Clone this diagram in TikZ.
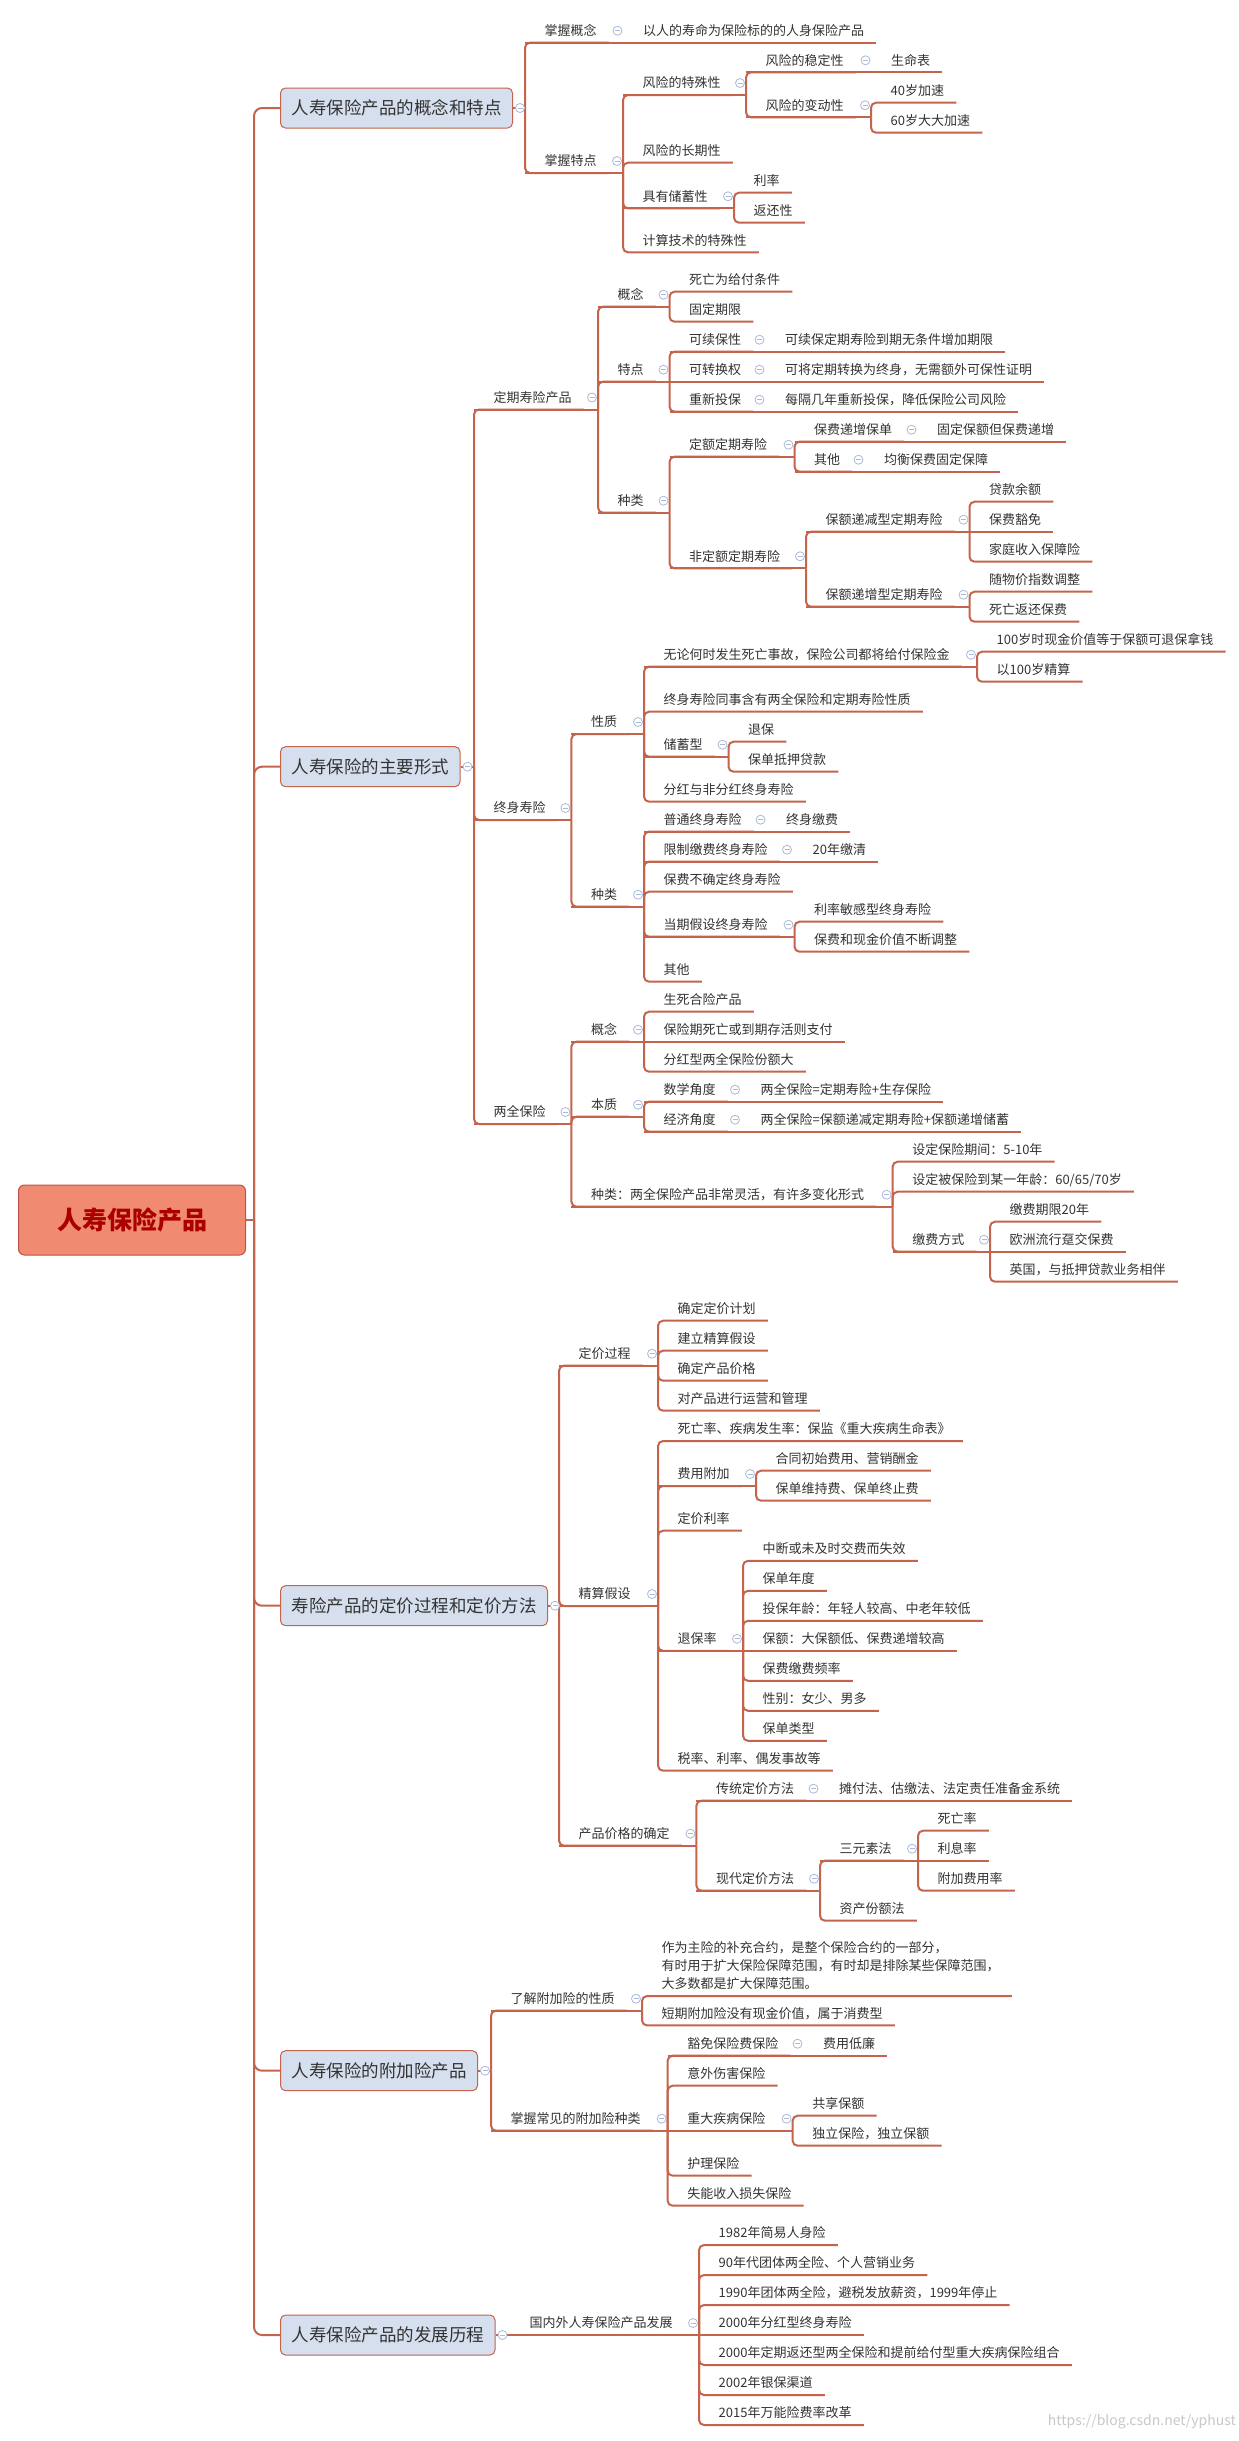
\documentclass[tikz,border=0pt]{standalone}
\usepackage{fontspec}
\newfontfamily\cjk{Noto Sans CJK SC}
\usetikzlibrary{calc}
\definecolor{lc}{RGB}{196,100,76}
\definecolor{bf}{RGB}{214,223,238}
\definecolor{tc}{RGB}{51,51,51}
\definecolor{rf}{RGB}{240,138,112}
\definecolor{rd}{RGB}{192,80,77}
\definecolor{rt}{RGB}{170,0,0}
\definecolor{tgc}{RGB}{170,185,215}
\definecolor{wmc}{RGB}{200,200,200}
\tikzset{
  ln/.style={draw=lc, line width=2pt},
  lf/.style={anchor=south west, inner sep=0pt, text depth=7pt, text height=10pt,
    font=\cjk\fontsize{13}{18}\selectfont, text=tc,
    execute at begin node={\hspace*{19.5pt}}, execute at end node={\hspace*{12pt}}},
  mb/.style={draw=lc, line width=1pt, fill=bf, rounded corners=5pt, anchor=west,
    minimum height=40pt, inner xsep=11pt, inner ysep=0pt,
    font=\cjk\fontsize{17.5}{20}\selectfont, text=tc},
  rootbox/.style={draw=rd, line width=1pt, fill=rf, rounded corners=6pt,
    minimum width=227pt, minimum height=70pt, inner sep=0pt,
    font=\cjk\bfseries\fontsize{25}{28}\selectfont, text=rt},
  tog/.pic={\draw[tgc, line width=0.8pt, fill=white] (0pt,0pt) circle (4.5pt);
            \draw[tgc, line width=0.8pt] (-2.5pt,0pt) -- (2.5pt,0pt);}
}
\newcommand\lnE[2]{\draw[ln] (#1) -- (#1 -| #2.south west);
  \draw[ln,rounded corners=5pt] (#1 -| #2.south west) -- (#2.south west) -- (#2.south east);}
\newcommand\lnS[2]{\draw[ln] (#1) -- (#2.south east);}
\newcommand\tg[2]{\pic at ($(#1 -| #2.south west)+(-6,-12)$) {tog};}
\newcommand\tgm[1]{\pic at ($(#1.east)+(7,0)$) {tog};}
\begin{document}
\begin{tikzpicture}[x=1pt,y=-1pt]
\fill[white] (0,0) rectangle (1239,2441);
\useasboundingbox (0,0) rectangle (1239,2441);

% root and main topics
\node[rootbox] (root) at (132,1220) {人寿保险产品};
\coordinate (rb) at (254,1220);
\node[mb] (m1) at (280,108) {人寿保险产品的概念和特点};
\node[mb] (m2) at (280,766.7) {人寿保险的主要形式};
\node[mb] (m3) at (280,1605.7) {寿险产品的定价过程和定价方法};
\node[mb] (m4) at (280,2070.7) {人寿保险的附加险产品};
\node[mb] (m5) at (280,2335) {人寿保险产品的发展历程};

% ---- main 1
\node[lf] (a1) at (525,42.7) {掌握概念};
\node[lf] (a11) at (623.5,42.7) {以人的寿命为保险标的的人身保险产品};
\node[lf] (a2) at (525,173) {掌握特点};
\node[lf] (a21) at (623,95) {风险的特殊性};
\node[lf] (a211) at (746,72.3) {风险的稳定性};
\node[lf] (a2111) at (871.5,72.3) {生命表};
\node[lf] (a212) at (746,117.3) {风险的变动性};
\node[lf] (a2121) at (871,102.7) {40岁加速};
\node[lf] (a2122) at (871,132.7) {60岁大大加速};
\node[lf] (a22) at (623,162.7) {风险的长期性};
\node[lf] (a23) at (623,208.3) {具有储蓄性};
\node[lf] (a231) at (734,192.7) {利率};
\node[lf] (a232) at (734,222.7) {返还性};
\node[lf] (a24) at (623,252.3) {计算技术的特殊性};

% ---- main 2
\node[lf] (b1) at (474,409.5) {定期寿险产品};
\node[lf] (b11) at (598,306.7) {概念};
\node[lf] (b111) at (669.5,291.7) {死亡为给付条件};
\node[lf] (b112) at (669.5,321.7) {固定期限};
\node[lf] (b12) at (598,381.7) {特点};
\node[lf] (b121) at (669.5,351.7) {可续保性};
\node[lf] (b1211) at (765.5,351.7) {可续保定期寿险到期无条件增加期限};
\node[lf] (b122) at (669.5,381.7) {可转换权};
\node[lf] (b1221) at (765.5,381.7) {可将定期转换为终身，无需额外可保性证明};
\node[lf] (b123) at (669.5,411.7) {重新投保};
\node[lf] (b1231) at (765.5,411.7) {每隔几年重新投保，降低保险公司风险};
\node[lf] (b13) at (598,512.7) {种类};
\node[lf] (b131) at (669.5,456.7) {定额定期寿险};
\node[lf] (b1311) at (794.5,441.7) {保费递增保单};
\node[lf] (b13111) at (917.5,441.7) {固定保额但保费递增};
\node[lf] (b1312) at (794.5,471.7) {其他};
\node[lf] (b13121) at (864.5,471.7) {均衡保费固定保障};
\node[lf] (b132) at (669.5,568.3) {非定额定期寿险};
\node[lf] (b1321) at (806,531.7) {保额递减型定期寿险};
\node[lf] (b13211) at (969.5,501.7) {贷款余额};
\node[lf] (b13212) at (969.5,531.7) {保费豁免};
\node[lf] (b13213) at (969.5,561.7) {家庭收入保障险};
\node[lf] (b1322) at (806,606.7) {保额递增型定期寿险};
\node[lf] (b13221) at (969.5,591.7) {随物价指数调整};
\node[lf] (b13222) at (969.5,621.7) {死亡返还保费};

\node[lf] (b2) at (474,820) {终身寿险};
\node[lf] (b21) at (571.4,734) {性质};
\node[lf] (b211) at (644,666.7) {无论何时发生死亡事故，保险公司都将给付保险金};
\node[lf] (b2111) at (977,651.7) {100岁时现金价值等于保额可退保拿钱};
\node[lf] (b2112) at (977,681.7) {以100岁精算};
\node[lf] (b212) at (644,711.7) {终身寿险同事含有两全保险和定期寿险性质};
\node[lf] (b213) at (644,756.7) {储蓄型};
\node[lf] (b2131) at (728.5,741.7) {退保};
\node[lf] (b2132) at (728.5,771.7) {保单抵押贷款};
\node[lf] (b214) at (644,801.7) {分红与非分红终身寿险};
\node[lf] (b22) at (571.4,906.7) {种类};
\node[lf] (b221) at (644,831.7) {普通终身寿险};
\node[lf] (b2211) at (766.5,831.7) {终身缴费};
\node[lf] (b222) at (644,861.7) {限制缴费终身寿险};
\node[lf] (b2221) at (793,861.7) {20年缴清};
\node[lf] (b223) at (644,891.7) {保费不确定终身寿险};
\node[lf] (b224) at (644,936.7) {当期假设终身寿险};
\node[lf] (b2241) at (794.5,921.7) {利率敏感型终身寿险};
\node[lf] (b2242) at (794.5,951.7) {保费和现金价值不断调整};
\node[lf] (b225) at (644,981.7) {其他};

\node[lf] (b3) at (474,1124) {两全保险};
\node[lf] (b31) at (571.4,1041.7) {概念};
\node[lf] (b311) at (644,1011.7) {生死合险产品};
\node[lf] (b312) at (644,1041.7) {保险期死亡或到期存活则支付};
\node[lf] (b313) at (644,1071.7) {分红型两全保险份额大};
\node[lf] (b32) at (571.4,1116.7) {本质};
\node[lf] (b321) at (644,1101.7) {数学角度};
\node[lf] (b3211) at (741,1101.7) {两全保险=定期寿险+生存保险};
\node[lf] (b322) at (644,1131.7) {经济角度};
\node[lf] (b3221) at (741,1131.7) {两全保险=保额递减定期寿险+保额递增储蓄};
\node[lf] (b33) at (571.4,1206.7) {种类：两全保险产品非常灵活，有许多变化形式};
\node[lf] (b331) at (892.6,1161.7) {设定保险期间：5-10年};
\node[lf] (b332) at (892.6,1191.7) {设定被保险到某一年龄：60/65/70岁};
\node[lf] (b333) at (892.6,1251.7) {缴费方式};
\node[lf] (b3331) at (990,1221.7) {缴费期限20年};
\node[lf] (b3332) at (990,1251.7) {欧洲流行趸交保费};
\node[lf] (b3333) at (990,1281.7) {英国，与抵押贷款业务相伴};

% ---- main 3
\node[lf] (c1) at (559,1365.7) {定价过程};
\node[lf] (c11) at (658,1320.7) {确定定价计划};
\node[lf] (c12) at (658,1350.7) {建立精算假设};
\node[lf] (c13) at (658,1380.7) {确定产品价格};
\node[lf] (c14) at (658,1410.7) {对产品进行运营和管理};
\node[lf] (c2) at (559,1606) {精算假设};
\node[lf] (c21) at (658,1441) {死亡率、疾病发生率：保监《重大疾病生命表》};
\node[lf] (c22) at (658,1486) {费用附加};
\node[lf] (c221) at (756,1470.7) {合同初始费用、营销酬金};
\node[lf] (c222) at (756,1500.7) {保单维持费、保单终止费};
\node[lf] (c23) at (658,1530.7) {定价利率};
\node[lf] (c24) at (658,1650.8) {退保率};
\node[lf] (c241) at (743,1560.8) {中断或未及时交费而失效};
\node[lf] (c242) at (743,1590.8) {保单年度};
\node[lf] (c243) at (743,1620.8) {投保年龄：年轻人较高、中老年较低};
\node[lf] (c244) at (743,1650.8) {保额：大保额低、保费递增较高};
\node[lf] (c245) at (743,1680.8) {保费缴费频率};
\node[lf] (c246) at (743,1710.8) {性别：女少、男多};
\node[lf] (c247) at (743,1740.8) {保单类型};
\node[lf] (c25) at (658,1770.7) {税率、利率、偶发事故等};
\node[lf] (c3) at (559,1845.7) {产品价格的确定};
\node[lf] (c31) at (696.4,1800.7) {传统定价方法};
\node[lf] (c311) at (819.5,1800.7) {摊付法、估缴法、法定责任准备金系统};
\node[lf] (c32) at (696.4,1890.7) {现代定价方法};
\node[lf] (c321) at (820,1860.7) {三元素法};
\node[lf] (c3211) at (918,1830.7) {死亡率};
\node[lf] (c3212) at (918,1860.7) {利息率};
\node[lf] (c3213) at (918,1890.7) {附加费用率};
\node[lf] (c322) at (820,1920.7) {资产份额法};

% ---- main 4
\node[lf] (d1) at (491,2010.7) {了解附加险的性质};
\node[lf] (d11) at (642,1996) {\begin{tabular}[b]{@{}l@{}}作为主险的补充合约，是整个保险合约的一部分，\\有时用于扩大保险保障范围，有时却是排除某些保障范围，\\大多数都是扩大保障范围。\end{tabular}};
\node[lf] (d12) at (642,2025.4) {短期附加险没有现金价值，属于消费型};
\node[lf] (d2) at (491,2130.7) {掌握常见的附加险种类};
\node[lf] (d21) at (667.6,2055.7) {豁免保险费保险};
\node[lf] (d211) at (803.5,2055.7) {费用低廉};
\node[lf] (d22) at (667.6,2085.7) {意外伤害保险};
\node[lf] (d23) at (667.6,2130.7) {重大疾病保险};
\node[lf] (d231) at (792.6,2115.7) {共享保额};
\node[lf] (d232) at (792.6,2145.7) {独立保险，独立保额};
\node[lf] (d24) at (667.6,2175.7) {护理保险};
\node[lf] (d25) at (667.6,2205.7) {失能收入损失保险};

% ---- main 5
\node[lf] (e1) at (510,2335) {国内外人寿保险产品发展};
\node[lf] (e11) at (699,2245) {1982年简易人身险};
\node[lf] (e12) at (699,2275) {90年代团体两全险、个人营销业务};
\node[lf] (e13) at (699,2305) {1990年团体两全险，避税发放薪资，1999年停止};
\node[lf] (e14) at (699,2335) {2000年分红型终身寿险};
\node[lf] (e15) at (699,2365) {2000年定期返还型两全保险和提前给付型重大疾病保险组合};
\node[lf] (e16) at (699,2395) {2002年银保渠道};
\node[lf] (e17) at (699,2425) {2015年万能险费率改革};

\node[anchor=east, inner sep=0pt, font=\cjk\fontsize{14}{16}\selectfont, text=wmc] (wm) at (1236,2422) {https://blog.csdn.net/yphust};

% ================= connectors
\draw[ln] (root.east) -- (rb);
\foreach \m in {m1,m2,m3,m4,m5}{\draw[ln,rounded corners=8pt] (rb) -- (rb |- \m.west) -- (\m.west);}

% main 1
\lnE{m1.east}{a1} \lnE{m1.east}{a2}
\lnS{a1.south west}{a11}
\lnE{a2.south west}{a21} \lnE{a2.south west}{a22} \lnE{a2.south west}{a23} \lnE{a2.south west}{a24}
\lnE{a21.south west}{a211} \lnE{a21.south west}{a212}
\lnS{a211.south west}{a2111}
\lnE{a212.south west}{a2121} \lnE{a212.south west}{a2122}
\lnE{a23.south west}{a231} \lnE{a23.south west}{a232}

% main 2
\lnE{m2.east}{b1} \lnE{m2.east}{b2} \lnE{m2.east}{b3}
\lnE{b1.south west}{b11} \lnE{b1.south west}{b12} \lnE{b1.south west}{b13}
\lnE{b11.south west}{b111} \lnE{b11.south west}{b112}
\lnE{b12.south west}{b121} \lnS{b12.south west}{b122} \lnE{b12.south west}{b123}
\lnS{b121.south west}{b1211} \lnS{b122.south west}{b1221} \lnS{b123.south west}{b1231}
\lnE{b13.south west}{b131} \lnE{b13.south west}{b132}
\lnE{b131.south west}{b1311} \lnE{b131.south west}{b1312}
\lnS{b1311.south west}{b13111} \lnS{b1312.south west}{b13121}
\lnE{b132.south west}{b1321} \lnE{b132.south west}{b1322}
\lnE{b1321.south west}{b13211} \lnS{b1321.south west}{b13212} \lnE{b1321.south west}{b13213}
\lnE{b1322.south west}{b13221} \lnE{b1322.south west}{b13222}
\lnE{b2.south west}{b21} \lnE{b2.south west}{b22}
\lnE{b21.south west}{b211} \lnE{b21.south west}{b212} \lnE{b21.south west}{b213} \lnE{b21.south west}{b214}
\lnE{b211.south west}{b2111} \lnE{b211.south west}{b2112}
\lnE{b213.south west}{b2131} \lnE{b213.south west}{b2132}
\lnE{b22.south west}{b221} \lnE{b22.south west}{b222} \lnE{b22.south west}{b223} \lnE{b22.south west}{b224} \lnE{b22.south west}{b225}
\lnS{b221.south west}{b2211} \lnS{b222.south west}{b2221}
\lnE{b224.south west}{b2241} \lnE{b224.south west}{b2242}
\lnE{b3.south west}{b31} \lnE{b3.south west}{b32} \lnE{b3.south west}{b33}
\lnE{b31.south west}{b311} \lnS{b31.south west}{b312} \lnE{b31.south west}{b313}
\lnE{b32.south west}{b321} \lnE{b32.south west}{b322}
\lnS{b321.south west}{b3211} \lnS{b322.south west}{b3221}
\lnE{b33.south west}{b331} \lnE{b33.south west}{b332} \lnE{b33.south west}{b333}
\lnE{b333.south west}{b3331} \lnS{b333.south west}{b3332} \lnE{b333.south west}{b3333}

% main 3
\lnE{m3.east}{c1} \lnE{m3.east}{c2} \lnE{m3.east}{c3}
\lnE{c1.south west}{c11} \lnE{c1.south west}{c12} \lnE{c1.south west}{c13} \lnE{c1.south west}{c14}
\lnE{c2.south west}{c21} \lnE{c2.south west}{c22} \lnE{c2.south west}{c23} \lnE{c2.south west}{c24} \lnE{c2.south west}{c25}
\lnE{c22.south west}{c221} \lnE{c22.south west}{c222}
\lnE{c24.south west}{c241} \lnE{c24.south west}{c242} \lnE{c24.south west}{c243} \lnS{c24.south west}{c244}
\lnE{c24.south west}{c245} \lnE{c24.south west}{c246} \lnE{c24.south west}{c247}
\lnE{c3.south west}{c31} \lnE{c3.south west}{c32}
\lnS{c31.south west}{c311}
\lnE{c32.south west}{c321} \lnE{c32.south west}{c322}
\lnE{c321.south west}{c3211} \lnS{c321.south west}{c3212} \lnE{c321.south west}{c3213}

% main 4
\lnE{m4.east}{d1} \lnE{m4.east}{d2}
\lnE{d1.south west}{d11} \lnE{d1.south west}{d12}
\lnE{d2.south west}{d21} \lnE{d2.south west}{d22} \lnS{d2.south west}{d23} \lnE{d2.south west}{d24} \lnE{d2.south west}{d25}
\lnS{d21.south west}{d211}
\lnE{d23.south west}{d231} \lnE{d23.south west}{d232}

% main 5
\lnS{m5.east}{e1}
\lnE{e1.south west}{e11} \lnE{e1.south west}{e12} \lnE{e1.south west}{e13} \lnS{e1.south west}{e14}
\lnE{e1.south west}{e15} \lnE{e1.south west}{e16} \lnE{e1.south west}{e17}

% ================= collapse marks
\tgm{m1} \tgm{m2} \tgm{m3} \tgm{m4} \tgm{m5}
\tg{a1.south west}{a11} \tg{a2.south west}{a21} \tg{a21.south west}{a211}
\tg{a211.south west}{a2111} \tg{a212.south west}{a2121} \tg{a23.south west}{a231}
\tg{b1.south west}{b11} \tg{b11.south west}{b111} \tg{b12.south west}{b121}
\tg{b121.south west}{b1211} \tg{b122.south west}{b1221} \tg{b123.south west}{b1231}
\tg{b13.south west}{b131} \tg{b131.south west}{b1311} \tg{b1311.south west}{b13111}
\tg{b1312.south west}{b13121} \tg{b132.south west}{b1321} \tg{b1321.south west}{b13211}
\tg{b1322.south west}{b13221}
\tg{b2.south west}{b21} \tg{b21.south west}{b211} \tg{b211.south west}{b2111}
\tg{b213.south west}{b2131} \tg{b22.south west}{b221} \tg{b221.south west}{b2211}
\tg{b222.south west}{b2221} \tg{b224.south west}{b2241}
\tg{b3.south west}{b31} \tg{b31.south west}{b311} \tg{b32.south west}{b321}
\tg{b321.south west}{b3211} \tg{b322.south west}{b3221} \tg{b33.south west}{b331}
\tg{b333.south west}{b3331}
\tg{c1.south west}{c11} \tg{c2.south west}{c21} \tg{c22.south west}{c221}
\tg{c24.south west}{c241} \tg{c3.south west}{c31} \tg{c31.south west}{c311}
\tg{c32.south west}{c321} \tg{c321.south west}{c3211}
\tg{d1.south west}{d11} \tg{d2.south west}{d21} \tg{d21.south west}{d211}
\tg{d23.south west}{d231}
\tg{e1.south west}{e11}
\end{tikzpicture}
\end{document}
